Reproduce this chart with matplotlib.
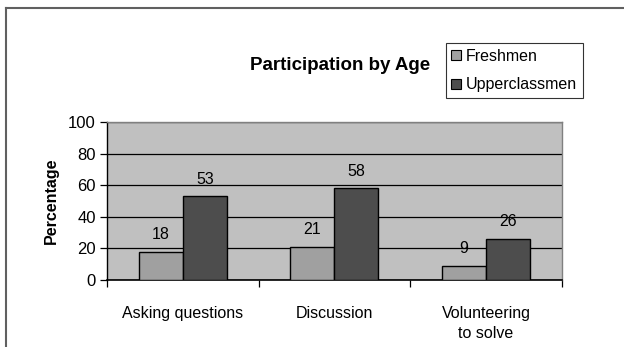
import numpy as np
import matplotlib
matplotlib.use('Agg')
import matplotlib.pyplot as plt
from matplotlib.lines import Line2D

plt.rcParams['font.family'] = ['Liberation Sans', 'DejaVu Sans']

categories = ['Asking questions', 'Discussion', 'Volunteering\nto solve']
freshmen = [18, 21, 9]
upperclassmen = [53, 58, 26]
series_names = ['Freshmen', 'Upperclassmen']
yticks = [0, 20, 40, 60, 80, 100]

fig = plt.figure(figsize=(6.24, 3.47), dpi=100)
ax = fig.add_axes([0.1715, 0.193, 0.729, 0.455])
ax.set_facecolor('#c0c0c0')

x = np.arange(len(categories))
w = 0.29
b1 = ax.bar(x - w / 2, freshmen, w, color='#a0a0a0', edgecolor='black', linewidth=1, label=series_names[0], zorder=3)
b2 = ax.bar(x + w / 2, upperclassmen, w, color='#4d4d4d', edgecolor='black', linewidth=1, label=series_names[1], zorder=3)

for bars, vals in [(b1, freshmen), (b2, upperclassmen)]:
    for r, v in zip(bars, vals):
        ax.annotate(str(v), (r.get_x() + r.get_width() / 2, v), xytext=(0, 7),
                    textcoords='offset points', ha='center', va='bottom', fontsize=11.5)

ax.set_xlim(-0.5, len(categories) - 0.5)
ax.set_ylim(0, 100)
ax.set_yticks(yticks)
ax.yaxis.grid(True, color='black', linewidth=0.9, zorder=0)
ax.set_axisbelow(True)
ax.set_xticks(np.arange(len(categories) + 1) - 0.5, minor=False)
ax.set_xticklabels([])
ax.set_xticks(x, minor=True)
ax.set_xticklabels(categories, minor=True, fontsize=11.5, linespacing=1.4)
ax.tick_params(axis='x', which='minor', length=0, pad=19)
ax.tick_params(axis='x', which='major', length=5, direction='out', width=0.9)
ax.tick_params(axis='y', length=5, width=0.9, labelsize=12, pad=3)

for side in ['top', 'right']:
    ax.spines[side].set_color('#808080')
    ax.spines[side].set_linewidth(1)
ax.spines['left'].set_linewidth(1)
ax.spines['bottom'].set_linewidth(1.2)

ax.set_ylabel('Percentage', fontsize=11.5, fontweight='bold', labelpad=7)

fig.text(0.545, 0.81, 'Participation by Age', ha='center', va='center',
         fontsize=13.5, fontweight='bold')

handles = [Line2D([], [], marker='s', linestyle='none', markersize=7,
                  markerfacecolor=c, markeredgecolor='black', markeredgewidth=0.8)
           for c in ['#a0a0a0', '#4d4d4d']]
leg = fig.legend(handles, series_names, loc='upper left', bbox_to_anchor=(0.7147, 0.876),
                 fontsize=11.5, frameon=True, fancybox=False, edgecolor='black',
                 handlelength=0.6, handletextpad=0.3, borderpad=0.35,
                 labelspacing=0.85, borderaxespad=0)
leg.get_frame().set_linewidth(0.8)

# outer chart border (only top and left visible)
fig.add_artist(Line2D([6 / 624, 6 / 624], [0, 1 - 8 / 347], transform=fig.transFigure,
                      color='#606060', linewidth=1.5))
fig.add_artist(Line2D([6 / 624, 1], [1 - 8 / 347, 1 - 8 / 347], transform=fig.transFigure,
                      color='#606060', linewidth=1.5))

fig.savefig('out.png', dpi=100)
